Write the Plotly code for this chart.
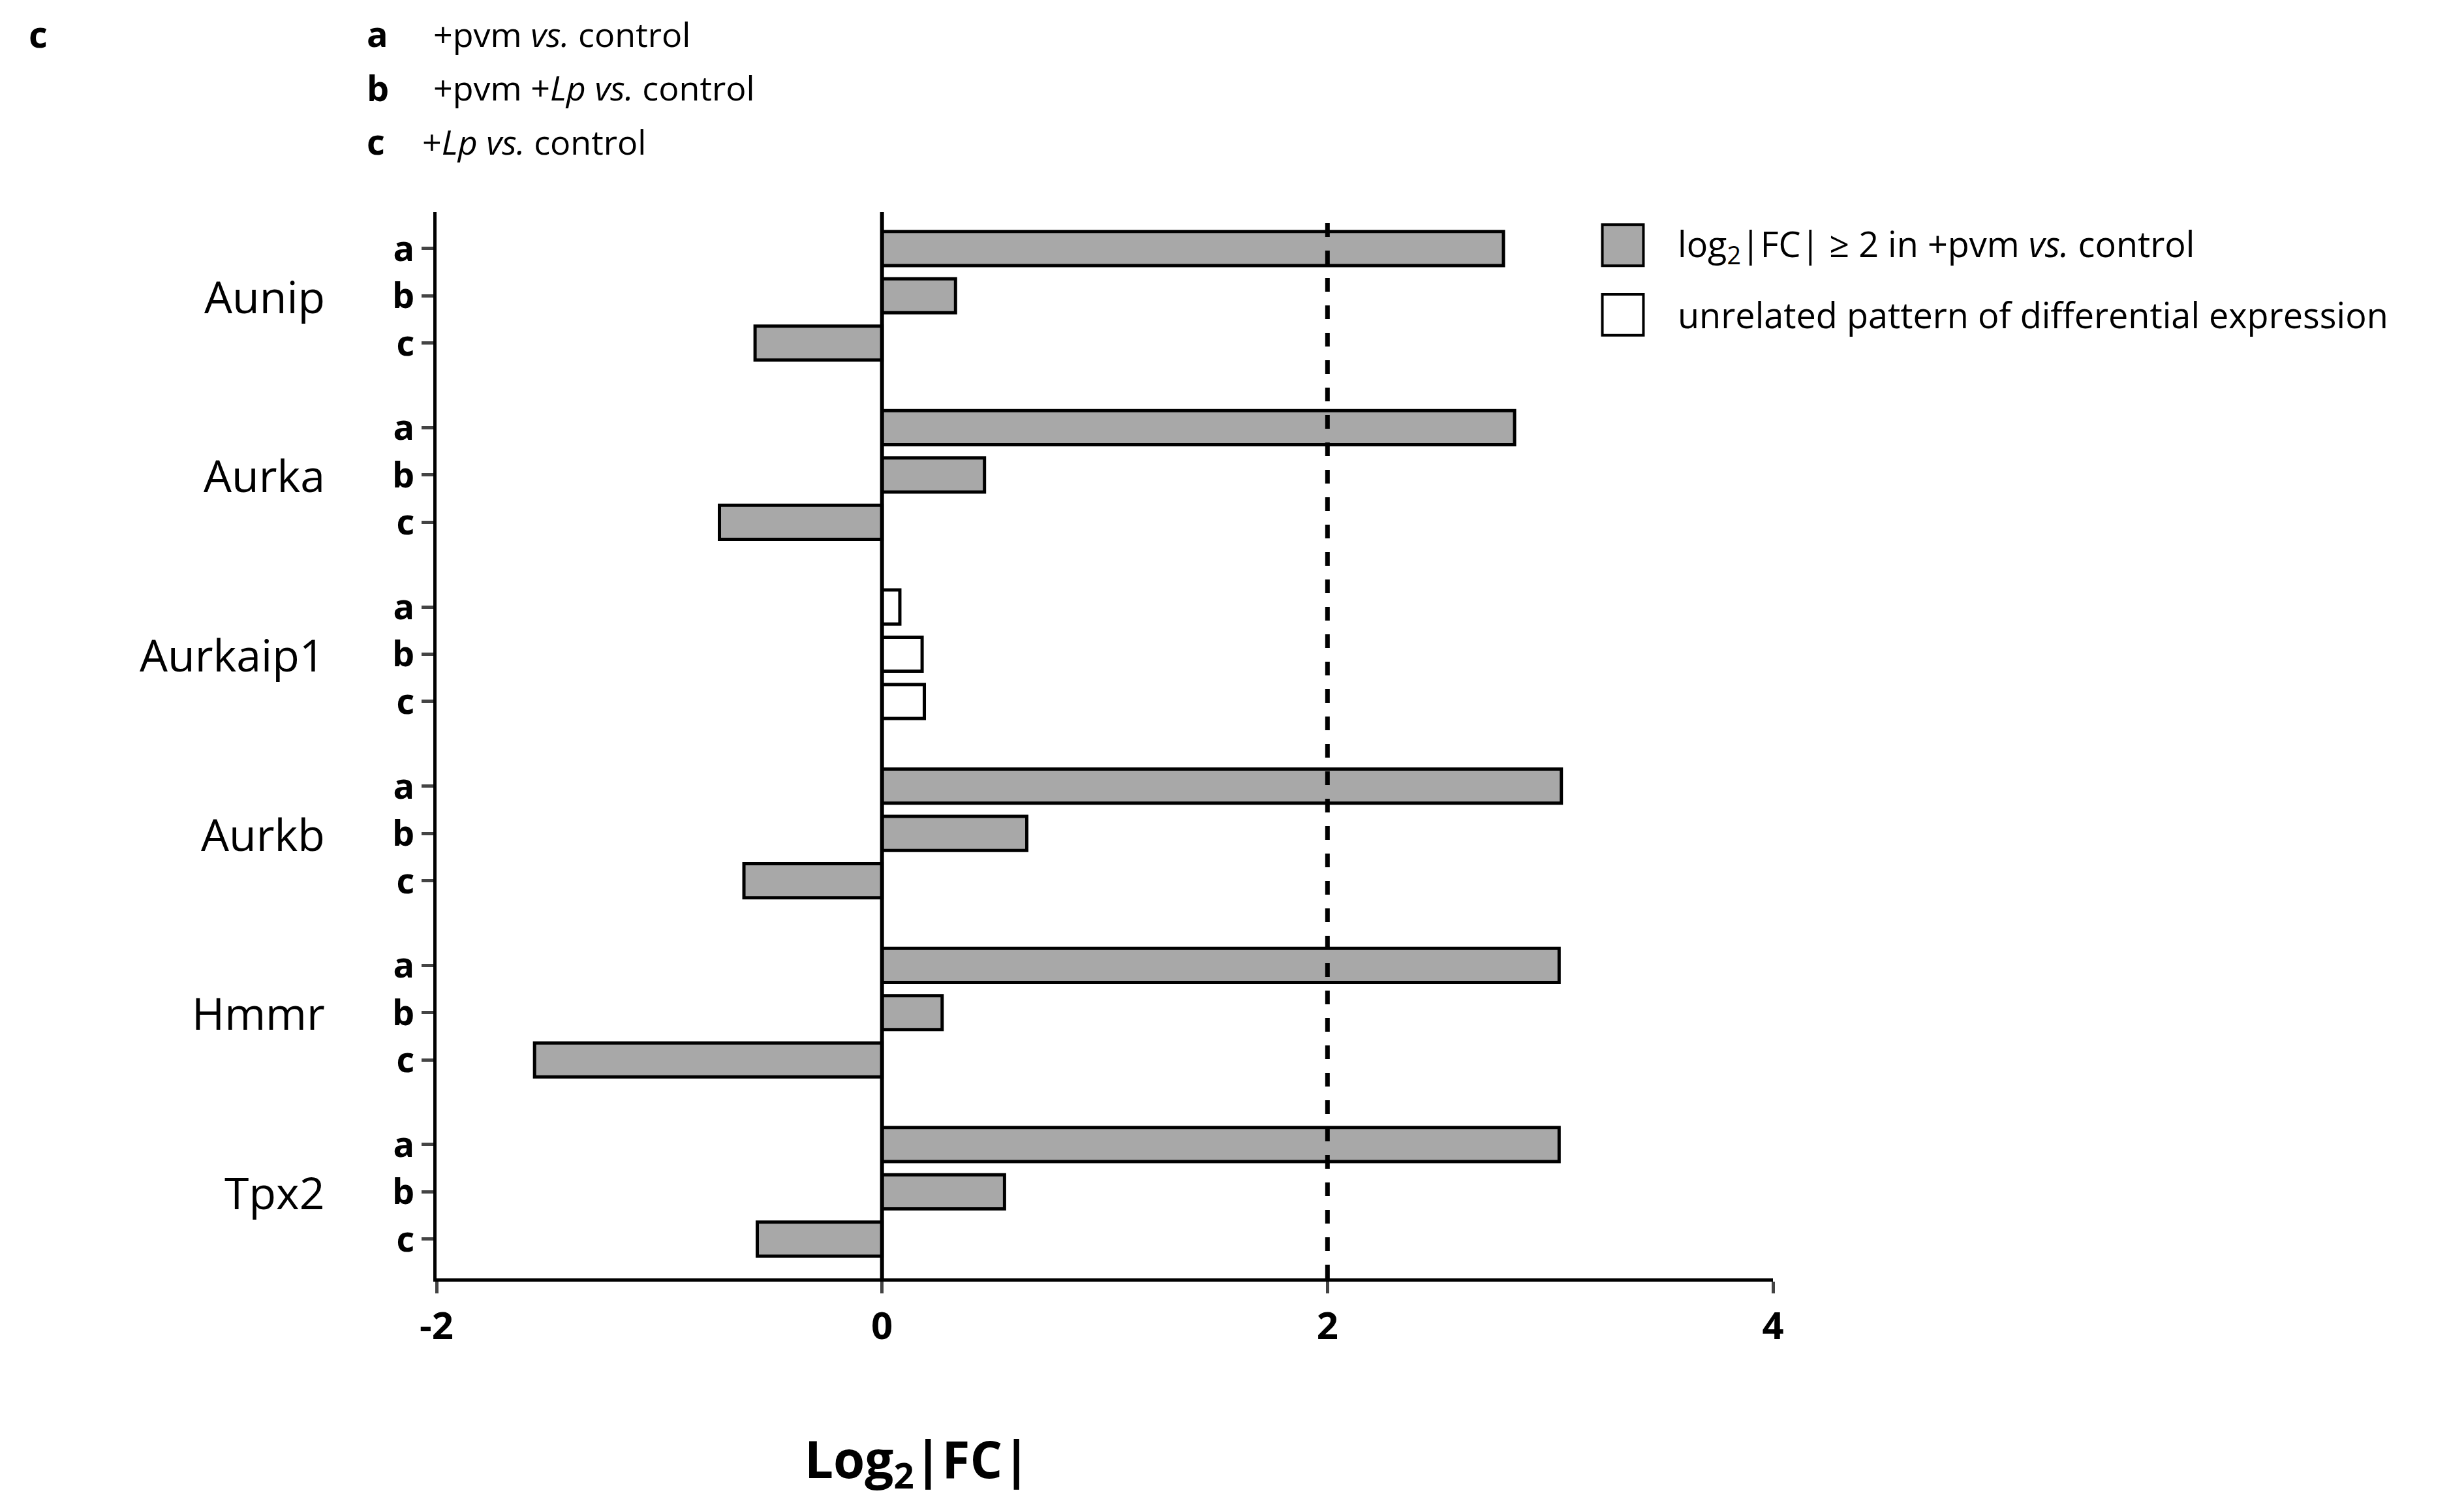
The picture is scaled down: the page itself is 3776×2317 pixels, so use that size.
import plotly.graph_objects as go

genes = ["Aunip", "Aurka", "Aurkaip1", "Aurkb", "Hmmr", "Tpx2"]
comparisons = ["a", "b", "c"]
values = [
    [2.79, 0.33, -0.57],
    [2.84, 0.46, -0.73],
    [0.08, 0.18, 0.19],
    [3.05, 0.65, -0.62],
    [3.04, 0.27, -1.56],
    [3.04, 0.55, -0.56],
]
highlight = [True, True, False, True, True, True]
x_ticks = [-2, 0, 2, 4]
threshold = 2

S = 3776 / 1560
L, R, T, B = 273, 1119, 131, 806
def px(X): return (X - L) / (R - L)
def py(Y): return (B - Y) / (B - T)

GAP = 3.79
fig = go.Figure()
ys, xs, cols, tv, tt = [], [], [], [], []
for g, gene in enumerate(genes):
    for k, c in enumerate(comparisons):
        y = g * GAP + k
        ys.append(y); xs.append(values[g][k])
        cols.append("#a8a8a8" if highlight[g] else "white")
        tv.append(y); tt.append("<b>%s</b>" % c)
fig.add_trace(go.Bar(x=xs, y=ys, orientation="h", width=0.72,
                     marker=dict(color=cols, line=dict(color="black", width=5)),
                     showlegend=False))
font = "Open Sans"
fig.update_layout(
    width=3776, height=2317, plot_bgcolor="white", paper_bgcolor="white",
    margin=dict(l=L * S, r=3776 - R * S, t=T * S, b=2317 - B * S),
    font=dict(family=font, color="black"),
    xaxis=dict(range=[-2, 4], tickvals=x_ticks, ticktext=["<b>%d</b>" % v for v in x_ticks],
               tickfont=dict(size=58), showline=True, linecolor="black", linewidth=5,
               ticks="outside", ticklen=18, tickwidth=5, showgrid=False, zeroline=False),
    yaxis=dict(range=[5 * GAP + 2 + 0.83, -0.77], tickvals=tv, ticktext=tt,
               tickfont=dict(size=54), showline=True, linecolor="black", linewidth=5,
               ticks="outside", ticklen=18, tickwidth=5, showgrid=False, zeroline=False),
)
fig.add_vline(x=0, line=dict(color="black", width=6))
fig.add_vline(x=threshold, line=dict(color="black", width=7, dash="dash"))
for g, gene in enumerate(genes):
    fig.add_annotation(x=px(203), xref="paper", y=g * GAP + 1, yref="y", text=gene,
                       showarrow=False, xanchor="right", yanchor="middle", font=dict(size=68))
fig.add_annotation(x=px(505), y=py(922), xref="paper", yref="paper", text="<b>Log<sub>2</sub>|FC|</b>",
                   showarrow=False, xanchor="left", yanchor="middle", font=dict(size=78))
fig.add_annotation(x=px(14), y=py(18), xref="paper", yref="paper", text="<b>c</b>",
                   showarrow=False, xanchor="left", yanchor="middle", font=dict(size=56))
tops = [("a", "+pvm <i>vs.</i> control", 18, 270), ("b", "+pvm +<i>Lp vs.</i> control", 52, 270),
        ("c", "+<i>Lp vs.</i> control", 86, 263)]
for lab, txt, Y, X in tops:
    fig.add_annotation(x=px(228), y=py(Y), xref="paper", yref="paper", text="<b>%s</b>" % lab,
                       showarrow=False, xanchor="left", yanchor="middle", font=dict(size=54))
    fig.add_annotation(x=px(X), y=py(Y), xref="paper", yref="paper", text=txt,
                       showarrow=False, xanchor="left", yanchor="middle", font=dict(size=52))
for (Y, fill, txt) in [(152, "#a8a8a8", "log<sub>2</sub>|FC| ≥ 2 in +pvm <i>vs.</i> control"),
                       (196, "white", "unrelated pattern of differential expression")]:
    fig.add_shape(type="rect", xref="paper", yref="paper", x0=px(1011), x1=px(1037),
                  y0=py(Y - 13), y1=py(Y + 13), fillcolor=fill, line=dict(color="black", width=4))
    fig.add_annotation(x=px(1058), y=py(Y), xref="paper", yref="paper", text=txt,
                       showarrow=False, xanchor="left", yanchor="middle", font=dict(size=54))
fig.write_html("out.html")
